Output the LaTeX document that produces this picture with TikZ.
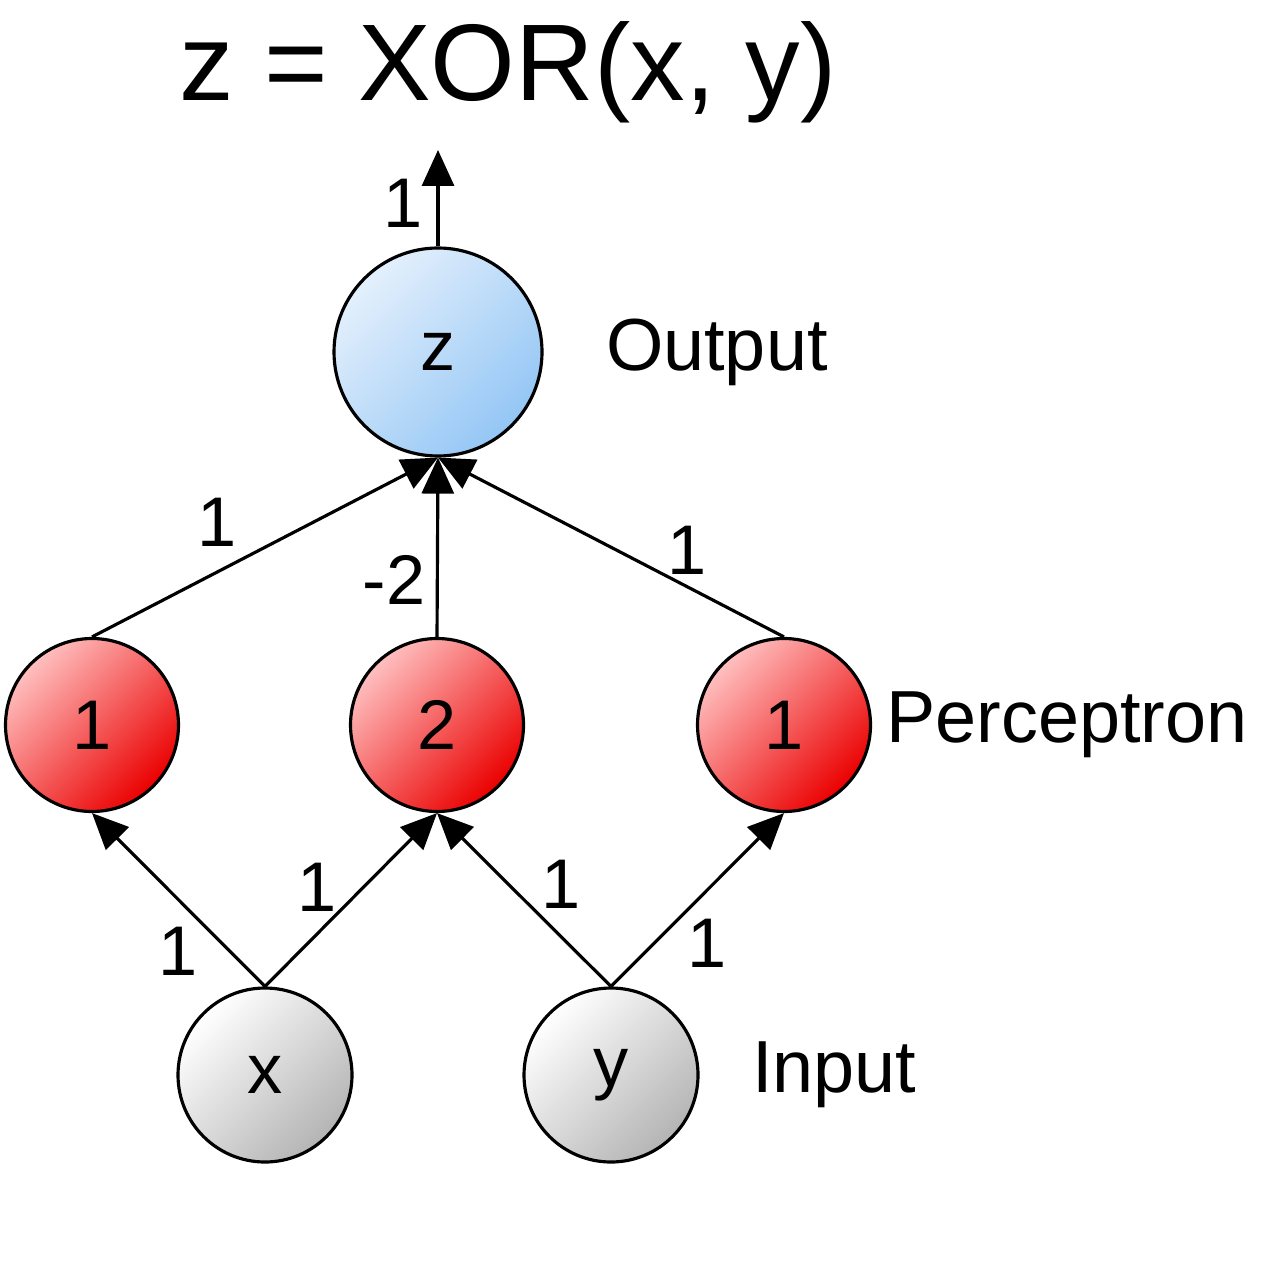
\documentclass[tikz,border=0pt]{standalone}
\usepackage{fontspec}
\setmainfont{Liberation Sans}
\usetikzlibrary{arrows.meta, positioning}

\definecolor{outblue}{RGB}{148,198,245}
\definecolor{outlight}{RGB}{228,240,252}
\definecolor{ingray}{RGB}{180,180,180}
\definecolor{percred}{RGB}{235,0,0}

\begin{document}
\begin{tikzpicture}[
        neuron/.style={circle, draw, line width=0.9pt, inner sep=0pt, font=\fontsize{20}{24}\selectfont},
        outnode/.style={neuron, minimum size=2.08cm, top color=outlight, bottom color=outblue, shading angle=45},
        percnode/.style={neuron, minimum size=1.73cm, top color=red!25!white, middle color=red, bottom color=percred, shading angle=45},
        innode/.style={neuron, minimum size=1.74cm, top color=white, bottom color=ingray, shading angle=45},
        weight/.style={font=\fontsize{20}{24}\selectfont, inner sep=3pt},
        layer/.style={font=\fontsize{21}{24}\selectfont},
        link/.style={-{Triangle[length=0.36cm, width=0.32cm]}, line width=0.9pt}
    ]
    \useasboundingbox (0,0) rectangle (12.8,-12.71);

    % Title
    \node[font=\fontsize{31}{36}\selectfont] (title) at (5.08,-0.72) {z = XOR(x, y)};

    % Output neuron
    \node[outnode] (z) at (4.38,-3.52) {z};
    \coordinate (out) at (4.38,-1.50);
    \node[layer, right=0.5cm of z] (outlbl) {Output};

    % Perceptron layer
    \node[percnode] (p1) at (0.92,-7.25) {1};
    \node[percnode] (p2) at (4.37,-7.25) {2};
    \node[percnode] (p3) at (7.84,-7.25) {1};
    \node[layer, right=0.02cm of p3] (perclbl) {Perceptron};

    % Input layer
    \node[innode] (x) at (2.65,-10.75) {x};
    \node[innode] (y) at (6.11,-10.75) {y};
    \node[layer, right=0.4cm of y] (inlbl) {Input};

    % z -> output
    \draw[link] (z.north) -- node[weight, left, pos=0.45, xshift=-1pt] {1} (out);

    % perceptrons -> z
    \draw[link] (p1.north) -- node[weight, above, pos=0.36, yshift=4pt] {1} (z.south);
    \draw[link] (p2.north) -- node[weight, left, pos=0.32] {-2} (z.south);
    \draw[link] (p3.north) -- node[weight, above, pos=0.28] {1} (z.south);

    % inputs -> perceptrons
    \draw[link] (x.north) -- node[weight, left, pos=0.2, xshift=-6pt] {1} (p1.south);
    \draw[link] (x.north) -- node[weight, left, pos=0.57, xshift=-4pt] {1} (p2.south);
    \draw[link] (y.north) -- node[weight, right, pos=0.59, xshift=6pt] {1} (p2.south);
    \draw[link] (y.north) -- node[weight, right, pos=0.25, xshift=6pt] {1} (p3.south);

\end{tikzpicture}
\end{document}
